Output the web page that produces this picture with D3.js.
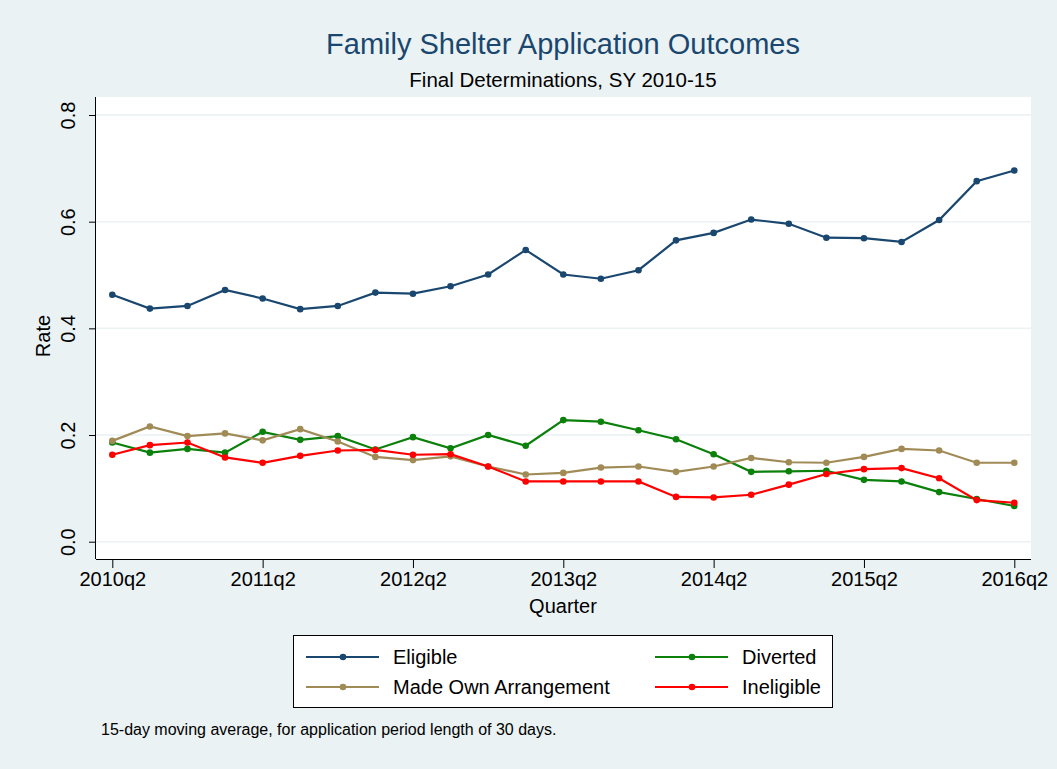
<!DOCTYPE html>
<html>
<head>
<meta charset="utf-8">
<script src="https://cdn.jsdelivr.net/npm/d3@7"></script>
<style>
  body { margin: 0; background: #eaf2f3; }
  svg { display: block; font-family: "Liberation Sans", Arial, sans-serif; }
</style>
</head>
<body>
<div id="chart"></div>
<script>
// quarters 2010q2 .. 2016q2
var quarters = ["2010q2","2010q3","2010q4","2011q1","2011q2","2011q3","2011q4","2012q1","2012q2","2012q3","2012q4","2013q1","2013q2",
                "2013q3","2013q4","2014q1","2014q2","2014q3","2014q4","2015q1","2015q2","2015q3","2015q4","2016q1","2016q2"];
var xTicks = ["2010q2","2011q2","2012q2","2013q2","2014q2","2015q2","2016q2"];
var yTicks = [0, 0.2, 0.4, 0.6, 0.8];

var eligible   = [0.463,0.437,0.442,0.472,0.456,0.436,0.442,0.467,0.465,0.479,0.501,0.547,0.501,0.493,0.509,0.565,0.579,0.604,0.596,0.570,0.569,0.562,0.603,0.676,0.696];
var diverted   = [0.186,0.167,0.174,0.167,0.206,0.191,0.198,0.173,0.196,0.175,0.200,0.180,0.228,0.225,0.209,0.192,0.164,0.131,0.132,0.133,0.116,0.113,0.093,0.080,0.067];
var madeOwn    = [0.189,0.216,0.198,0.203,0.190,0.211,0.188,0.159,0.153,0.160,0.141,0.126,0.129,0.139,0.141,0.131,0.141,0.157,0.149,0.148,0.159,0.174,0.171,0.148,0.148];
var ineligible = [0.163,0.181,0.186,0.158,0.148,0.161,0.171,0.172,0.163,0.164,0.141,0.113,0.113,0.113,0.113,0.084,0.083,0.088,0.107,0.127,0.136,0.138,0.119,0.078,0.073];

var seriesNames = ["Eligible", "Diverted", "Made Own Arrangement", "Ineligible"];
var seriesData = [eligible, diverted, madeOwn, ineligible];
var colors = ["#1a476f", "#0b800b", "#a08b56", "#ff0000"];

var W = 1057, H = 769;
var plot = {left: 96, right: 1031, top: 97, bottom: 559};

var svg = d3.select("#chart").append("svg")
  .attr("width", W).attr("height", H);

svg.append("rect").attr("width", W).attr("height", H).attr("fill", "#eaf2f3");

// plot region
svg.append("rect")
  .attr("x", plot.left).attr("y", plot.top)
  .attr("width", plot.right - plot.left).attr("height", plot.bottom - plot.top)
  .attr("fill", "#ffffff");

var x = d3.scalePoint().domain(quarters).range([112.3, 1014.3]);
var y = d3.scaleLinear().domain([0, 0.8]).range([541.7, 115]);

// gridlines
svg.append("g")
  .selectAll("line")
  .data(yTicks)
  .enter().append("line")
  .attr("x1", plot.left).attr("x2", plot.right)
  .attr("y1", d => y(d)).attr("y2", d => y(d))
  .attr("stroke", "#eaf2f3").attr("stroke-width", 1.5);

// x axis
var xAxis = d3.axisBottom(x).tickValues(xTicks).tickSize(9).tickPadding(4);
var gx = svg.append("g")
  .attr("transform", "translate(0," + plot.bottom + ")")
  .call(xAxis);
gx.select(".domain").attr("d", "M" + plot.left + ",0.5H" + plot.right).attr("stroke", "#000");
gx.selectAll(".tick line").attr("stroke", "#000");
gx.selectAll(".tick text").attr("font-size", 20).attr("fill", "#000").attr("dy", "0.72em");

// y axis
var yAxis = d3.axisLeft(y).tickValues(yTicks).tickFormat(d3.format(".1f")).tickSize(7).tickPadding(6);
var gy = svg.append("g")
  .attr("transform", "translate(" + plot.left + ",0)")
  .call(yAxis);
gy.select(".domain").attr("d", "M-0.5," + plot.top + "V" + plot.bottom).attr("stroke", "#000");
gy.selectAll(".tick line").attr("stroke", "#000");
gy.selectAll(".tick text")
  .attr("font-size", 20).attr("fill", "#000")
  .attr("x", null).attr("dy", null)
  .attr("text-anchor", "middle")
  .attr("transform", "translate(-21,0) rotate(-90)");

// axis titles
svg.append("text")
  .attr("transform", "translate(50," + ((plot.top + plot.bottom) / 2 + 8) + ") rotate(-90)")
  .attr("text-anchor", "middle")
  .attr("font-size", 20)
  .text("Rate");

svg.append("text")
  .attr("x", 563).attr("y", 613)
  .attr("text-anchor", "middle")
  .attr("font-size", 20)
  .text("Quarter");

// lines
var line = d3.line()
  .x((d, i) => x(quarters[i]))
  .y(d => y(d));

seriesData.forEach(function(s, k) {
  var g = svg.append("g");
  g.append("path")
    .attr("d", line(s))
    .attr("fill", "none")
    .attr("stroke", colors[k])
    .attr("stroke-width", 2.2);
  g.selectAll("circle")
    .data(s)
    .enter().append("circle")
    .attr("cx", (d, i) => x(quarters[i]))
    .attr("cy", d => y(d))
    .attr("r", 3.3)
    .attr("fill", colors[k]);
});

// titles
svg.append("text")
  .attr("x", 563).attr("y", 54)
  .attr("text-anchor", "middle")
  .attr("font-size", 29)
  .attr("fill", "#1a476f")
  .text("Family Shelter Application Outcomes");

svg.append("text")
  .attr("x", 563).attr("y", 87)
  .attr("text-anchor", "middle")
  .attr("font-size", 20.5)
  .text("Final Determinations, SY 2010-15");

// legend
var legend = svg.append("g");
legend.append("rect")
  .attr("x", 293.5).attr("y", 635.5)
  .attr("width", 539).attr("height", 72)
  .attr("fill", "#ffffff").attr("stroke", "#000").attr("stroke-width", 1);

var legendPos = [
  {x: 306, y: 657},
  {x: 655, y: 657},
  {x: 306, y: 687},
  {x: 655, y: 687}
];

seriesNames.forEach(function(name, k) {
  var p = legendPos[k];
  legend.append("line")
    .attr("x1", p.x).attr("x2", p.x + 73)
    .attr("y1", p.y).attr("y2", p.y)
    .attr("stroke", colors[k]).attr("stroke-width", 2.2);
  legend.append("circle")
    .attr("cx", p.x + 37).attr("cy", p.y).attr("r", 3.3)
    .attr("fill", colors[k]);
  legend.append("text")
    .attr("x", p.x + 87).attr("y", p.y + 7)
    .attr("font-size", 20)
    .text(name);
});

// note
svg.append("text")
  .attr("x", 101).attr("y", 735)
  .attr("font-size", 16)
  .text("15-day moving average, for application period length of 30 days.");
</script>
</body>
</html>
